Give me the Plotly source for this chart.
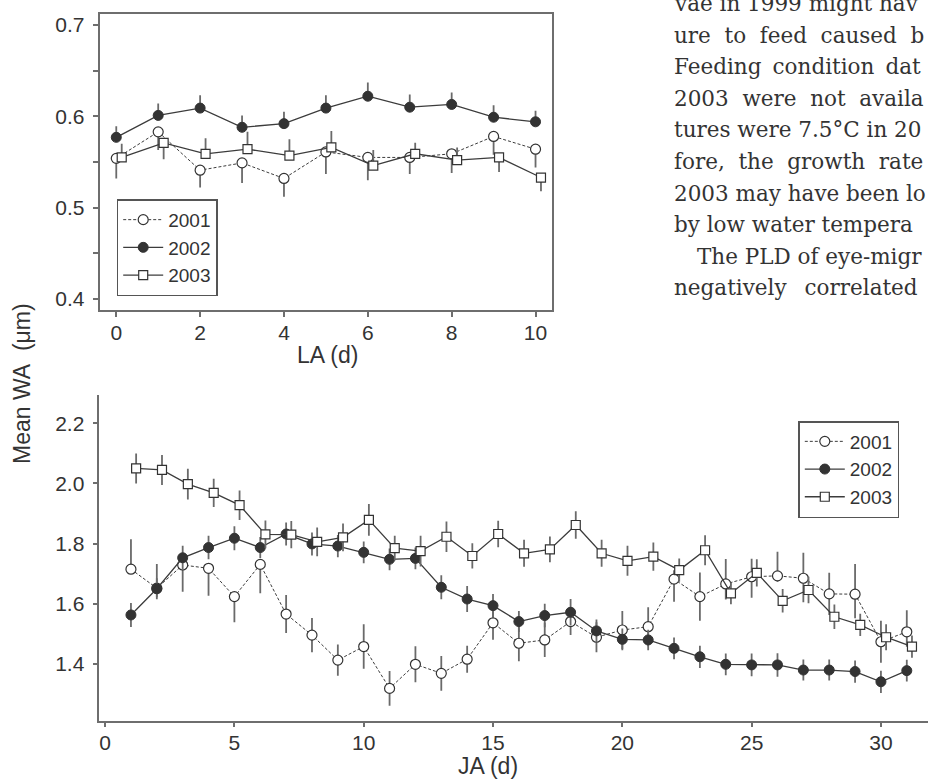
import plotly.graph_objects as go

W, H = 928, 782

# ---------------- data: top panel (LA) ----------------
LA = [0, 1, 2, 3, 4, 5, 6, 7, 8, 9, 10]
wa01_la = [0.554, 0.583, 0.541, 0.549, 0.532, 0.561, 0.555, 0.555, 0.559, 0.578, 0.564]
wa01_la_minus = [0.022, 0.020, 0.019, 0.022, 0.020, 0.024, 0.025, 0.018, 0.021, 0.020, 0.020]
wa01_la_plus = [0, 0, 0, 0, 0, 0, 0, 0, 0, 0, 0]
wa02_la = [0.577, 0.601, 0.609, 0.588, 0.592, 0.609, 0.622, 0.610, 0.613, 0.599, 0.594]
wa02_la_plus = [0.012, 0.013, 0.014, 0.013, 0.013, 0.014, 0.015, 0.014, 0.013, 0.013, 0.012]
wa02_la_minus = [0, 0, 0, 0, 0, 0, 0, 0, 0, 0, 0]
wa03_la = [0.555, 0.571, 0.559, 0.564, 0.557, 0.566, 0.546, 0.559, 0.552, 0.555, 0.533]
wa03_la_plus = [0.015, 0, 0.017, 0.019, 0.018, 0.018, 0.017, 0.012, 0.014, 0, 0]
wa03_la_minus = [0, 0.018, 0, 0, 0, 0, 0, 0, 0, 0.016, 0.015]

# ---------------- data: bottom panel (JA) ----------------
JA = list(range(1, 32))
wa01_ja = [1.715, 1.652, 1.729, 1.718, 1.624, 1.731, 1.566, 1.496, 1.413, 1.458, 1.319,
           1.399, 1.369, 1.416, 1.537, 1.469, 1.480, 1.541, 1.489, 1.513, 1.524, 1.682,
           1.624, 1.666, 1.690, 1.693, 1.685, 1.633, 1.632, 1.474, 1.507]
wa01_ja_plus = [0.100, 0.080, 0, 0, 0, 0, 0.063, 0.057, 0.052, 0.074, 0.058, 0.060, 0.058,
                0.045, 0.056, 0.060, 0.057, 0.045, 0.050, 0.063, 0.065, 0.030, 0.080, 0.083,
                0.060, 0.080, 0.085, 0.070, 0.100, 0.070, 0.072]
wa01_ja_minus = [0, 0.030, 0.089, 0.091, 0.085, 0.096, 0.063, 0.057, 0.052, 0.074, 0.058,
                 0.060, 0.058, 0.045, 0.056, 0.060, 0.057, 0.045, 0.050, 0.063, 0.065, 0.075,
                 0.080, 0.052, 0.070, 0.020, 0.080, 0.070, 0.080, 0.070, 0.050]
wa02_ja = [1.563, 1.650, 1.753, 1.787, 1.818, 1.787, 1.832, 1.799, 1.792, 1.771, 1.748,
           1.751, 1.655, 1.616, 1.594, 1.541, 1.561, 1.572, 1.510, 1.482, 1.480, 1.452,
           1.424, 1.399, 1.397, 1.397, 1.380, 1.380, 1.375, 1.341, 1.378]
wa02_ja_err = [0.040, 0.035, 0.040, 0.039, 0.040, 0.035, 0.038, 0.038, 0.037, 0.036, 0.036,
               0.036, 0.040, 0.043, 0.039, 0.035, 0.039, 0.044, 0.038, 0.036, 0.034, 0.036,
               0.037, 0.036, 0.038, 0.039, 0.035, 0.035, 0.037, 0.037, 0.036]
wa03_ja = [2.050, 2.045, 1.998, 1.969, 1.928, 1.831, 1.830, 1.806, 1.821, 1.879, 1.785,
           1.775, 1.823, 1.759, 1.832, 1.768, 1.781, 1.862, 1.768, 1.743, 1.757, 1.712,
           1.778, 1.635, 1.703, 1.610, 1.646, 1.557, 1.530, 1.489, 1.458]
wa03_ja_err = [0.050, 0.050, 0.051, 0.047, 0.049, 0.046, 0.045, 0.048, 0.046, 0.053, 0.041,
               0.051, 0.051, 0.042, 0.044, 0.045, 0.043, 0.046, 0.045, 0.050, 0.047, 0.039,
               0.050, 0.036, 0.045, 0.039, 0.044, 0.041, 0.037, 0.043, 0.037]

years = ["2001", "2002", "2003"]

# text fragment of the journal page at the top right
NB2 = "\u00a0\u00a0"
page_lines = [
    "vae in 1999 might hav",
    NB2.join(["ure", "to", "feed", "caused", "b"]),
    "Feeding\u00a0\u2009condition\u00a0\u2009dat",
    NB2.join(["2003", "were", "not", "availa"]),
    "tures were 7.5°C in 20",
    NB2.join(["fore,", "the", "growth", "rate"]),
    "2003 may have been lo",
    "by low water tempera",
    "The PLD of eye-migr",
    "negatively\u00a0\u00a0\u2009correlated",
]

# ---------------- styling ----------------
FONT = "Liberation Sans, Arial, sans-serif"
AX = "#6e6e6e"
TXT = "#333333"
LINE = "#3c3c3c"
ERR = "#6a6a6a"
DARK = "#333333"


def px(x):
    return x / W


def py(y):
    return 1 - y / H


styles = {
    "2001": dict(line=dict(color=LINE, width=1, dash="3px,2px"),
                 marker=dict(symbol="circle", size=10, color="white",
                             line=dict(color=DARK, width=1.2))),
    "2002": dict(line=dict(color=LINE, width=1.3),
                 marker=dict(symbol="circle", size=10, color=DARK,
                             line=dict(color=DARK, width=1))),
    "2003": dict(line=dict(color=LINE, width=1.3),
                 marker=dict(symbol="square", size=9, color="white",
                             line=dict(color=DARK, width=1.2))),
}

fig = go.Figure()

top_sets = [
    ("2001", LA, wa01_la, wa01_la_plus, wa01_la_minus, 0.0),
    ("2002", LA, wa02_la, wa02_la_plus, wa02_la_minus, 0.0),
    ("2003", LA, wa03_la, wa03_la_plus, wa03_la_minus, 0.13),
]
for name, xs, ys, plus, minus, off in top_sets:
    fig.add_trace(go.Scatter(
        x=[v + off for v in xs], y=ys, name=name, mode="lines+markers",
        xaxis="x", yaxis="y", legend="legend",
        error_y=dict(type="data", symmetric=False, array=plus, arrayminus=minus,
                     width=0, thickness=1.8, color=ERR),
        **styles[name]))

bottom_sets = [
    ("2001", JA, wa01_ja, wa01_ja_plus, wa01_ja_minus, 0.0),
    ("2002", JA, wa02_ja, wa02_ja_err, wa02_ja_err, 0.0),
    ("2003", JA, wa03_ja, wa03_ja_err, wa03_ja_err, 0.2),
]
for name, xs, ys, plus, minus, off in bottom_sets:
    fig.add_trace(go.Scatter(
        x=[v + off for v in xs], y=ys, name=name, mode="lines+markers",
        xaxis="x2", yaxis="y2", legend="legend2",
        error_y=dict(type="data", symmetric=False, array=plus, arrayminus=minus,
                     width=0, thickness=1.8, color=ERR),
        **styles[name]))

axis_common = dict(showline=True, linecolor=AX, linewidth=1.5, ticks="outside",
                   ticklen=5, tickwidth=1.5, tickcolor=AX, showgrid=False,
                   zeroline=False, tickfont=dict(family=FONT, size=21, color=TXT))

legend_common = dict(bgcolor="white", bordercolor="#555555", borderwidth=1.5,
                     font=dict(family=FONT, size=19, color=TXT), xanchor="left",
                     yanchor="top", tracegroupgap=0, itemwidth=40,
                     itemclick=False, itemdoubleclick=False)

annotations = [
    dict(text="LA (d)", x=px(327), y=py(355), xref="paper", yref="paper",
         xanchor="center", yanchor="middle",
         showarrow=False, font=dict(family=FONT, size=23, color=TXT)),
    dict(text="JA (d)", x=px(488), y=py(766), xref="paper", yref="paper",
         xanchor="center", yanchor="middle",
         showarrow=False, font=dict(family=FONT, size=23, color=TXT)),
    dict(text="Mean WA\u00a0\u00a0(μm)", x=px(22), y=py(384), xref="paper", yref="paper",
         xanchor="center", yanchor="middle",
         showarrow=False, textangle=-90, font=dict(family=FONT, size=23, color=TXT)),
]

baseline0 = 10.5
for i, t in enumerate(page_lines):
    xstart = 694.5 if t.startswith("The PLD") else 672
    yb = baseline0 + 31.6 * i
    annotations.append(dict(text=t, x=px(xstart), y=py(yb - 7), xref="paper", yref="paper",
                            xanchor="left", yanchor="middle", showarrow=False,
                            font=dict(family="DejaVu Serif, serif", size=21.5, color="#333333")))

fig.update_layout(
    width=W, height=H, margin=dict(l=0, r=0, t=0, b=0),
    paper_bgcolor="white", plot_bgcolor="white",
    xaxis=dict(domain=[px(99.5), px(552.3)], range=[-0.40, 10.40], tickvals=[0, 2, 4, 6, 8, 10],
               mirror=True, anchor="y", ticklabelstandoff=-2, **axis_common),
    yaxis=dict(domain=[py(310), py(14)], range=[0.388, 0.712], tickvals=[0.4, 0.5, 0.6, 0.7],
               ticktext=["0.4", "0.5", "0.6", "0.7"], mirror=True, anchor="x",
               ticklabelstandoff=4,
               minor=dict(tickvals=[0.45, 0.55, 0.65], ticks="outside", ticklen=5,
                          tickwidth=1.5, tickcolor=AX, showgrid=False),
               **axis_common),
    xaxis2=dict(domain=[px(99.3), 1.0], range=[-0.224, 31.82],
                tickvals=[0, 5, 10, 15, 20, 25, 30], anchor="y2", ticklabelstandoff=-3,
                **axis_common),
    yaxis2=dict(domain=[py(720.7), py(395)], range=[1.2116, 2.294],
                tickvals=[1.4, 1.6, 1.8, 2.0, 2.2], ticktext=["1.4", "1.6", "1.8", "2.0", "2.2"],
                anchor="x2", ticklabelstandoff=4, **axis_common),
    legend=dict(x=px(116.7), y=py(199.3), **legend_common),
    legend2=dict(x=px(798.3), y=py(421), **legend_common),
    annotations=annotations,
    showlegend=True,
)

fig.write_html("out.html",
               config={"displayModeBar": False, "staticPlot": False},
               post_script="document.body.style.margin='0px';"
                           "document.body.style.overflow='hidden';")
